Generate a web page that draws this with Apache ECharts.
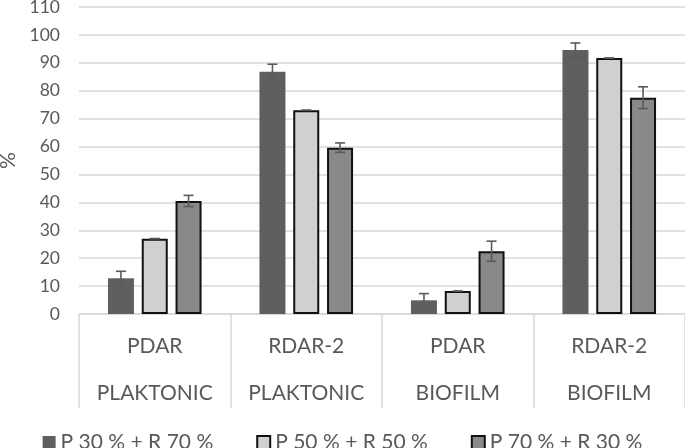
<!DOCTYPE html>
<html>
<head>
<meta charset="utf-8">
<script src="https://cdn.jsdelivr.net/npm/echarts@6/dist/echarts.min.js"></script>
<style>html,body{margin:0;padding:0;background:#fff}#c{width:685px;height:448px}</style>
</head>
<body>
<div id="c"></div>
<script>
// Data
const categoryTop = ["PDAR", "RDAR-2", "PDAR", "RDAR-2"];
const categoryBottom = ["PLAKTONIC", "PLAKTONIC", "BIOFILM", "BIOFILM"];
const seriesNames = ["P 30 % + R 70 %", "P 50 % + R 50 %", "P 70 % + R 30 %"];
const values1 = [12.8, 86.8, 4.9, 94.6];
const values2 = [27.0, 73.0, 8.2, 91.7];
const values3 = [40.5, 59.6, 22.5, 77.5];
const errors1 = [2.5, 2.7, 2.4, 2.5];
const errors2 = [0, 0, 0, 0];
const errors3 = [2.0, 1.7, 3.6, 3.9];
const yTicks = [0, 110, 10]; // min, max, interval

const categories = categoryTop.map((t, i) => t + "\n" + categoryBottom[i]);
const FONT = "Lato";
const TXT = "#595959";
const BAR_W = 26;
const GAP = 0.3;
const STEP = BAR_W * (1 + GAP);

const fills = ["#5f5f5f", "#d0d0d0", "#898989"];
const borders = [null, "#111", "#111"];
const allVals = [values1, values2, values3];
const allErrs = [errors1, errors2, errors3];

const series = [];
allVals.forEach((vals, s) => {
  series.push({
    name: seriesNames[s],
    type: "bar",
    barWidth: BAR_W,
    barGap: (GAP * 100) + "%",
    data: vals,
    itemStyle: borders[s]
      ? { color: fills[s], borderColor: borders[s], borderWidth: 2 }
      : { color: fills[s] },
    z: 2
  });
});
allVals.forEach((vals, s) => {
  const off = (s - 1) * STEP;
  series.push({
    type: "custom",
    name: "err" + s,
    z: 5,
    silent: true,
    data: vals.map((v, i) => [i, v, allErrs[s][i]]),
    renderItem: function (params, api) {
      const x = api.value(0), y = api.value(1), e = api.value(2);
      const top = api.coord([x, y + e]);
      const bot = api.coord([x, y - e]);
      const cx = top[0] + off;
      const hw = 5;
      const st = { stroke: "#5a5a5a", lineWidth: 1.6 };
      return {
        type: "group",
        children: [
          { type: "line", shape: { x1: cx, y1: top[1], x2: cx, y2: bot[1] }, style: st },
          { type: "line", shape: { x1: cx - hw, y1: top[1], x2: cx + hw, y2: top[1] }, style: st },
          { type: "line", shape: { x1: cx - hw, y1: bot[1], x2: cx + hw, y2: bot[1] }, style: st }
        ]
      };
    }
  });
});

const chart = echarts.init(document.getElementById("c"), null, { renderer: "canvas" });
chart.setOption({
  animation: false,
  backgroundColor: "#fff",
  textStyle: { fontFamily: FONT },
  grid: { left: 79, right: 0, top: 7, bottom: 134, containLabel: false, outerBoundsMode: "none" },
  legend: {
    data: seriesNames,
    left: "center",
    top: 427,
    itemWidth: 13,
    itemHeight: 13,
    itemGap: 43,
    icon: "rect",
    textStyle: { fontFamily: FONT, fontSize: 21, color: TXT }
  },
  xAxis: {
    type: "category",
    data: categories,
    axisLine: { lineStyle: { color: "#d9d9d9", width: 1.5 } },
    axisTick: { show: true, interval: 0, length: 94, lineStyle: { color: "#d9d9d9", width: 1.5 } },
    axisLabel: {
      interval: 0,
      fontFamily: FONT,
      fontSize: 21,
      color: TXT,
      align: "center",
      lineHeight: 47,
      margin: 9
    }
  },
  yAxis: {
    type: "value",
    min: yTicks[0],
    max: yTicks[1],
    interval: yTicks[2],
    name: "%",
    nameLocation: "middle",
    nameRotate: 90,
    nameGap: 54,
    nameTextStyle: { fontFamily: FONT, fontSize: 21, color: TXT },
    axisLine: { show: false },
    axisTick: { show: false },
    axisLabel: { fontFamily: FONT, fontSize: 17.5, color: TXT, margin: 19 },
    splitLine: { lineStyle: { color: "#d9d9d9", width: 1.5 } }
  },
  series: series
});
</script>
</body>
</html>
